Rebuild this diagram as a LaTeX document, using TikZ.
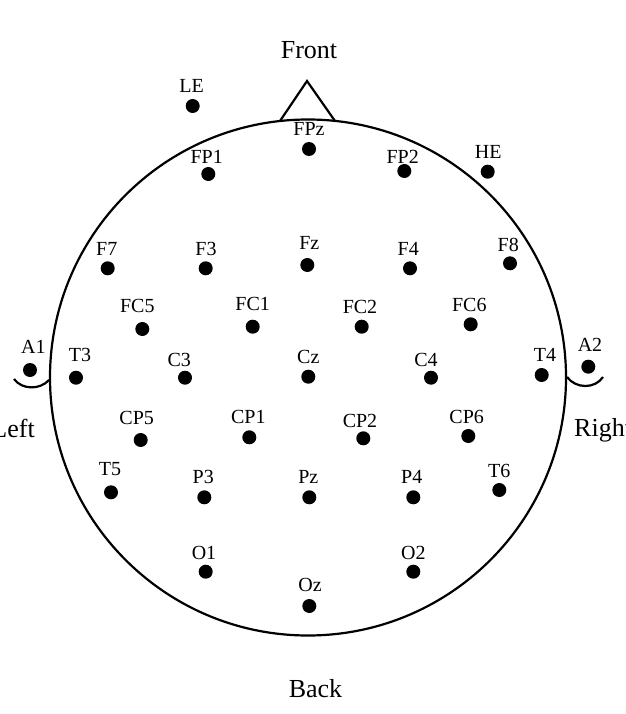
\documentclass[tikz,border=0pt]{standalone}
\usepackage{fontspec}
\setmainfont{Liberation Serif}
\begin{document}
\begin{tikzpicture}[x=1pt,y=-1pt,
  dot/.style={circle,fill=black,inner sep=0pt,minimum size=14pt},
  lab/.style={inner sep=0pt,font=\fontsize{20}{22}\selectfont},
  big/.style={inner sep=0pt,font=\fontsize{26}{30}\selectfont},
  outline/.style={line width=2.2pt}]
\useasboundingbox (0,0) rectangle (625,714);
\clip (0,0) rectangle (625,714);
% head
\node[circle,draw,outline,minimum size=516pt,inner sep=0pt] (head) at (308,377.5) {};
% nose
\coordinate (noseL) at (280,121);
\coordinate (noseT) at (307,81);
\coordinate (noseR) at (335,121);
\draw[outline,line join=miter] (noseL) -- (noseT) -- (noseR);
% ears
\coordinate (earLa) at (14,379);
\coordinate (earLb) at (49,380);
\coordinate (earRa) at (567,377);
\coordinate (earRb) at (603,377);
\draw[outline] (earLa) .. controls (22,390) and (40,390) .. (earLb);
\draw[outline] (earRa) .. controls (576,389) and (595,389) .. (earRb);
% directions
\node[big] (front) at (309,50.5) {Front};
\node[big] (back) at (315.5,688.7) {Back};
\node[big,anchor=base east] (left) at (35,437.3) {Left};
\node[big,anchor=base west] (right) at (574,436) {Right};
% electrodes
\foreach \n/\dx/\dy/\lx/\ly in {
  LE/192.7/106/191.7/86,
  FPz/309/149/309/128.5,
  FP1/208.3/174/206.7/156.7,
  FP2/404.3/171/402.7/156.7,
  HE/487.7/171.7/488.3/151.7,
  F7/107.7/268.3/106.7/249.3,
  F3/205.7/268.3/206/249,
  Fz/307.3/265/309.3/243.3,
  F4/410/268.3/408.3/249.3,
  F8/510/263.3/508.3/245,
  FC5/142.3/329/137.3/306,
  FC1/252.7/326.7/252.7/304,
  FC2/361.7/326.7/360/306.7,
  FC6/470.7/324.3/469.3/305,
  A1/30/370/33.3/346.7,
  T3/76/377.7/80/355,
  C3/185/377.7/179.3/360,
  Cz/308.3/376.7/308.3/357.3,
  C4/431/377.7/426/360,
  T4/541.7/375/545/355,
  A2/588.3/366.7/590/345,
  CP5/140.7/440/136.7/418.3,
  CP1/249.3/437.3/248.3/417.3,
  CP2/363.3/438.3/360/420.7,
  CP6/468.3/436/466.7/416.7,
  T5/111/492.3/110/469,
  P3/204.3/497.3/203.3/477.3,
  Pz/309.3/497.3/308.3/477.3,
  P4/413.3/497.3/411.7/477.3,
  T6/499.3/490/499.3/470.7,
  O1/205.7/571.7/204/553.3,
  O2/413.3/571.7/413.3/553.3,
  Oz/309.3/606/310/585}
{
  \node[dot] (\n) at (\dx,\dy) {};
  \node[lab] (\n-label) at (\lx,\ly) {\n};
}
\end{tikzpicture}
\end{document}
